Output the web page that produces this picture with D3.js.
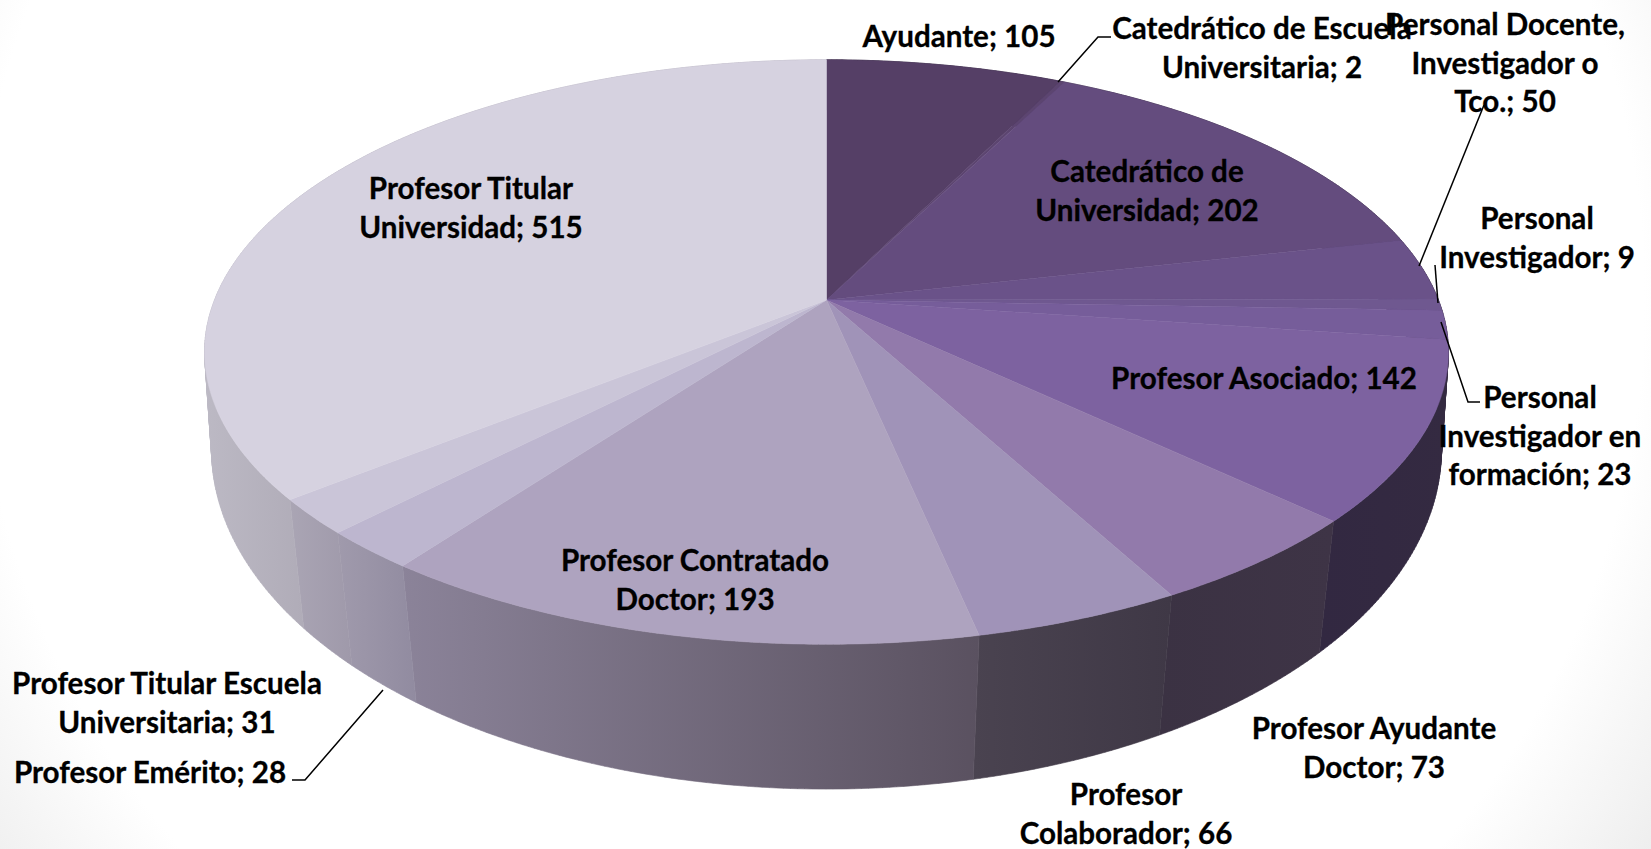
<!DOCTYPE html>
<html>
<head>
<meta charset="utf-8">
<script src="https://cdn.jsdelivr.net/npm/d3@7"></script>
<style>
html, body { margin: 0; padding: 0; background: #fff; }
svg { display: block; }
.label { font-family: Lato, "Open Sans", sans-serif; font-weight: 700; font-size: 29.6px; fill: #000; stroke: #000; stroke-width: 0.3; text-anchor: middle; }
.leader { fill: none; stroke: #000; stroke-width: 1.5; }
</style>
</head>
<body>
<div id="chart"></div>
<script>
// data
const categories = ["Ayudante", "Catedrático de Escuela Universitaria", "Catedrático de Universidad",
  "Personal Docente, Investigador o Tco.", "Personal Investigador", "Personal Investigador en formación",
  "Profesor Asociado", "Profesor Ayudante Doctor", "Profesor Colaborador", "Profesor Contratado Doctor",
  "Profesor Titular Escuela Universitaria", "Profesor Emérito", "Profesor Titular Universidad"];
const values = [105, 2, 202, 50, 9, 23, 142, 73, 66, 193, 31, 28, 515];

// how each label is broken over lines (last line gets "; value")
const labelLines = [["Ayudante"], ["Catedrático de Escuela", "Universitaria"], ["Catedrático de", "Universidad"],
  ["Personal Docente,", "Investigador o", "Tco."], ["Personal", "Investigador"], ["Personal", "Investigador en", "formación"],
  ["Profesor Asociado"], ["Profesor Ayudante", "Doctor"], ["Profesor", "Colaborador"], ["Profesor Contratado", "Doctor"],
  ["Profesor Titular Escuela", "Universitaria"], ["Profesor Emérito"], ["Profesor Titular", "Universidad"]];

const topColors = ["#553f66", "#5c4570", "#644c7e", "#6a5289", "#6f5890", "#765d9a", "#7d62a0",
  "#927aab", "#a093b8", "#aea3bf", "#bdb6cf", "#cac5d8", "#d6d2e0"];
const wallColors = [["#2e2438", "#2e2438"], ["#2e2438", "#2e2438"], ["#2e2438", "#2e2438"],
  ["#2e2438", "#2e2438"], ["#2e2438", "#2e2438"], ["#2e2438", "#2e2438"], ["#322841", "#342a41"],
  ["#3b3243", "#3e3446"], ["#4a4350", "#3f3846"], ["#8b8399", "#5a5160"], ["#a09aac", "#918ba0"],
  ["#aaa5b4", "#9f99aa"], ["#bcb9c4", "#b0acb8"]];

// [x of line centre, y of first line centre]
const labelPos = [[959, 37], [1262, 29], [1147, 172], [1505, 25], [1537, 219], [1540, 398], [1264, 379],
  [1374, 729], [1126, 795], [695, 561], [167, 684], [150, 773], [471, 189]];
const lineGap = 38.5;

const leaderLines = [
  [[1058, 82], [1098, 37], [1111, 37]],
  [[1419, 266], [1484, 105]],
  [[1435, 265], [1438, 303]],
  [[1441, 322], [1468, 402], [1480, 402]],
  [[383, 690], [305, 780], [292, 780]]
];

const width = 1651, height = 849;

const svg = d3.select("#chart").append("svg")
    .attr("width", width)
    .attr("height", height);

const defs = svg.append("defs");

// faint grey vignette in the lower corners of the slide
const bg = defs.append("radialGradient").attr("id", "bg")
    .attr("gradientUnits", "userSpaceOnUse")
    .attr("cx", 810).attr("cy", 300).attr("r", 1005);
bg.append("stop").attr("offset", 0.83).attr("stop-color", "#fff");
bg.append("stop").attr("offset", 1).attr("stop-color", "#eeeeee");
svg.append("rect").attr("width", width).attr("height", height).attr("fill", "url(#bg)");

// the pie is tilted: perspective mapping from the unit disc to the screen
const topDisc = {cx: 826.5, cy: 300, a: 612, b: 283, k: 0.178};
const baseDisc = {cx: 826.5, cy: 398.5, a: 608, b: 332, k: 0.15};

function project(disc, angle, r) {
  const u = r * Math.sin(angle), v = -r * Math.cos(angle);
  const w = 1 - disc.k * v;
  return [disc.cx + disc.a * u / w, disc.cy + disc.b * v / w];
}

function sampleAngles(a0, a1) {
  const n = Math.max(2, Math.ceil((a1 - a0) / 0.01));
  return d3.range(n + 1).map(i => a0 + (a1 - a0) * i / n);
}

const pie = d3.pie().sort(null).value(d => d);
const arcs = pie(values);
const line = d3.line();

// a wall is a strip of quads, all wound the same way so the fill keeps the silhouette
function wallPath(angles) {
  return d3.pairs(angles).map(([a, b]) => {
    const quad = [project(topDisc, a, 1), project(topDisc, b, 1), project(baseDisc, b, 1), project(baseDisc, a, 1)];
    if (d3.polygonArea(quad) < 0) quad.reverse();
    return line(quad) + "Z";
  }).join("");
}

// walls first, the top face covers whatever is behind it
arcs.forEach((d, i) => {
  const angles = sampleAngles(d.startAngle, d.endAngle);
  // shade only over the part that faces the viewer
  const front = angles.filter(a => Math.cos(a) < 0.1);
  const used = front.length > 1 ? front : angles;
  const gx = d3.extent(used.flatMap(a => [project(topDisc, a, 1)[0], project(baseDisc, a, 1)[0]]));
  const grad = defs.append("linearGradient").attr("id", "wall" + i)
      .attr("gradientUnits", "userSpaceOnUse")
      .attr("x1", gx[0]).attr("x2", gx[1]).attr("y1", 0).attr("y2", 0);
  grad.append("stop").attr("offset", 0).attr("stop-color", wallColors[i][0]);
  grad.append("stop").attr("offset", 1).attr("stop-color", wallColors[i][1]);
  svg.append("path")
      .attr("d", wallPath(angles))
      .attr("fill", "url(#wall" + i + ")")
      .attr("stroke", "url(#wall" + i + ")")
      .attr("stroke-width", 0.6);
});

svg.selectAll(".slice")
  .data(arcs)
  .join("path")
    .attr("class", "slice")
    .attr("d", d => line([project(topDisc, 0, 0)].concat(sampleAngles(d.startAngle, d.endAngle).map(a => project(topDisc, a, 1)))) + "Z")
    .attr("fill", (d, i) => topColors[i])
    .attr("stroke", (d, i) => topColors[i])
    .attr("stroke-width", 0.5);

svg.selectAll(".leader")
  .data(leaderLines)
  .join("path")
    .attr("class", "leader")
    .attr("d", line);

// labels
categories.forEach((c, i) => {
  const lines = labelLines[i];
  lines.forEach((t, j) => {
    svg.append("text")
        .attr("class", "label")
        .attr("x", labelPos[i][0])
        .attr("y", labelPos[i][1] + j * lineGap)
        .attr("dy", "0.35em")
        .text(j === lines.length - 1 ? t + "; " + values[i] : t);
  });
});
</script>
</body>
</html>
